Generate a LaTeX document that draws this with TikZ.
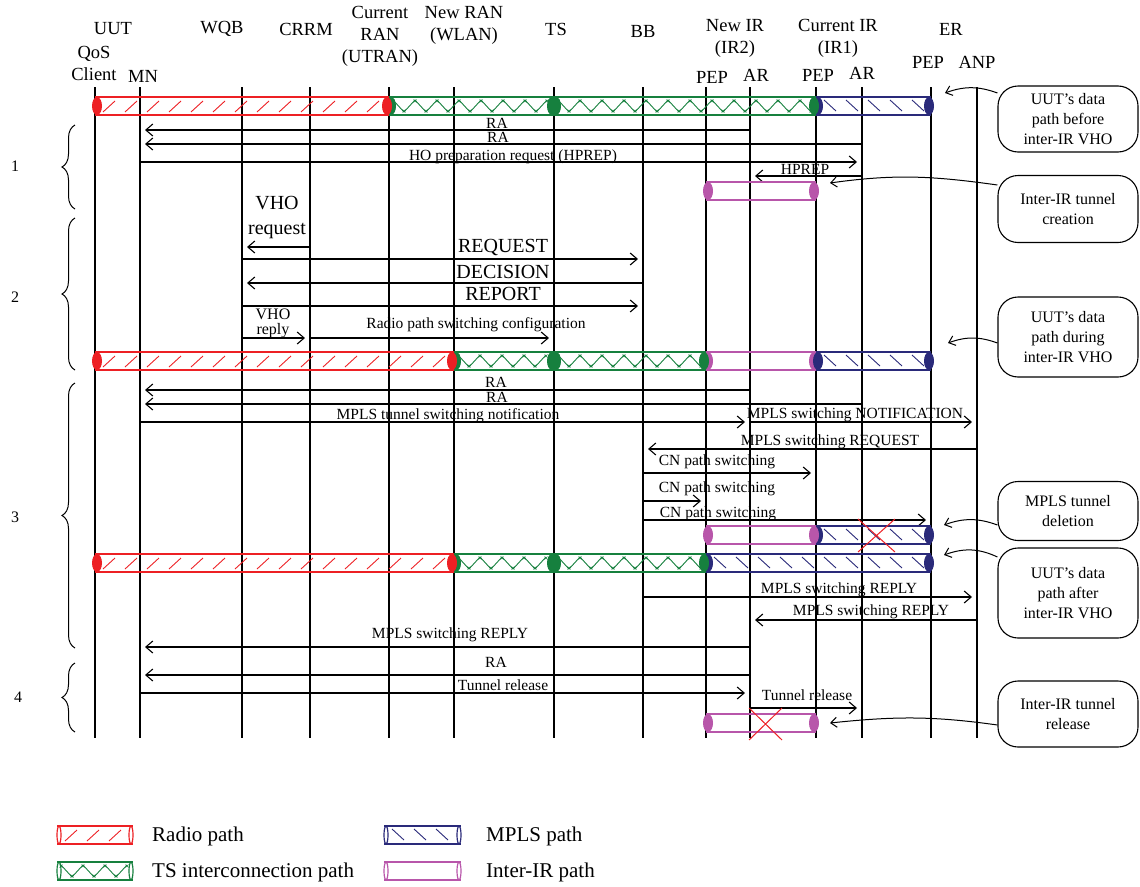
\documentclass[tikz,border=0pt]{standalone}
\usepackage{fontspec}
\setmainfont{Liberation Serif}
\usepackage{xcolor}
\usepackage{tikz}
\usetikzlibrary{arrows.meta,decorations.pathreplacing,positioning}

\definecolor{radioc}{RGB}{237,32,36}
\definecolor{tsc}{RGB}{22,128,62}
\definecolor{mplsc}{RGB}{42,42,122}
\definecolor{irc}{RGB}{184,86,170}

\newcommand\tubebody[4]{%
  \draw[#1, line width=1.3pt] (#2,#4-9) -- (#3,#4-9) (#2,#4+9) -- (#3,#4+9);}
\newcommand\tubecaps[4]{%
  \fill[#1] (#2+2,#4) ellipse[x radius=5pt, y radius=9pt]
            (#3-2,#4) ellipse[x radius=5pt, y radius=9pt];}
\newcommand\radiohatch[3]{%
  \pgfmathtruncatemacro\nh{(#2-#1-24)/22}%
  \foreach \k in {0,...,\nh}
    \draw[radioc, line width=0.9pt] (#1+8+22*\k,#3+6) -- (#1+20+22*\k,#3-5);}
\newcommand\mplshatch[3]{%
  \pgfmathtruncatemacro\nh{(#2-#1-24)/22}%
  \foreach \k in {0,...,\nh}
    \draw[mplsc, line width=0.9pt] (#1+8+22*\k,#3-6) -- (#1+20+22*\k,#3+5);}
\newcommand\tshatch[3]{%
  \pgfmathtruncatemacro\nz{(#2-#1-8)/11}%
  \draw[tsc, line width=0.9pt] (#1+4,#3-6)
    \foreach \k in {1,...,\nz} { -- (#1+4+11*\k,{#3-6+12*mod(\k,2)}) };
  \foreach \k in {0,...,\nz}
    \draw[tsc, line width=0.6pt] (#1+4+11*\k,{#3-5+10*mod(\k,2)})
      +(-1.5,-1.5) -- +(1.5,1.5) +(-1.5,1.5) -- +(1.5,-1.5);}
\newcommand\radioseg[3]{\tubebody{radioc}{#1}{#2}{#3}\radiohatch{#1}{#2}{#3}\tubecaps{radioc}{#1}{#2}{#3}}
\newcommand\tsseg[3]{\tubebody{tsc}{#1}{#2}{#3}\tshatch{#1}{#2}{#3}\tubecaps{tsc}{#1}{#2}{#3}}
\newcommand\mplsseg[3]{\tubebody{mplsc}{#1}{#2}{#3}\mplshatch{#1}{#2}{#3}\tubecaps{mplsc}{#1}{#2}{#3}}
\newcommand\irseg[3]{\tubebody{irc}{#1}{#2}{#3}\tubecaps{irc}{#1}{#2}{#3}}
\newcommand\legtube[4]{%
  \tubebody{#1}{#2}{#3}{#4}
  \draw[#1, line width=1.2pt] (#2+2,#4) ellipse[x radius=2pt, y radius=9pt]
                              (#3-2,#4) ellipse[x radius=2pt, y radius=9pt];}

\begin{document}
\begin{tikzpicture}[x=1pt, y=-1pt,
    life/.style={line width=1.1pt},
    msg/.style={-{Straight Barb[length=7pt,width=12pt]}, line width=1.1pt, shorten >=5pt},
    callarrow/.style={-{Straight Barb[length=6pt,width=10pt]}, line width=1pt},
    head/.style={font=\fontsize{18.5}{22}\selectfont, align=center, inner sep=0pt},
    lbl/.style={font=\fontsize{15.5}{16}\selectfont, anchor=base, inner sep=0pt},
    biglbl/.style={font=\fontsize{20}{25}\selectfont, anchor=base, inner sep=0pt},
    callout/.style={draw, line width=1.1pt, rounded corners=20pt, minimum width=140pt, align=center, font=\fontsize{16}{20}\selectfont},
    sectbrace/.style={decorate, decoration={brace, amplitude=13pt}, line width=1pt},
    num/.style={font=\fontsize{16}{18}\selectfont},
    leg/.style={font=\fontsize{21}{24}\selectfont, anchor=base west, inner sep=0pt},
    cutx/.style={radioc, line width=1pt}
]
    \useasboundingbox (0,0) rectangle (1140,886);

    \node[head] (uutlab) at (113,29) {UUT};
    \node[head] (qoslab) at (94,63) {QoS\\Client};
    \node[head] (mnlab) at (143,76) {MN};
    \node[head] (wqblab) at (222,29) {WQB};
    \node[head] (crrmlab) at (306,29) {CRRM};
    \node[head] (utranlab) at (380,36) {Current\\RAN\\(UTRAN)};
    \node[head] (wlanlab) at (464,25) {New RAN\\(WLAN)};
    \node[head] (tslab) at (556,29) {TS};
    \node[head] (bblab) at (643,31) {BB};
    \node[head] (ir2lab) at (735,38) {New IR\\(IR2)};
    \node[head] (pepNlab) at (712,77) {PEP};
    \node[head] (arNlab) at (756,75) {AR};
    \node[head] (ir1lab) at (838,38) {Current IR\\(IR1)};
    \node[head] (pepClab) at (818,75) {PEP};
    \node[head] (arClab) at (862,73) {AR};
    \node[head] (erlab) at (951,29) {ER};
    \node[head] (pepElab) at (928,62) {PEP};
    \node[head] (anplab) at (977,62) {ANP};

    \coordinate (qos) at (95,87);
    \coordinate (mn) at (140,87);
    \coordinate (wqb) at (242,87);
    \coordinate (crrm) at (310,87);
    \coordinate (utran) at (389,87);
    \coordinate (wlan) at (454,87);
    \coordinate (ts) at (554,87);
    \coordinate (bb) at (643,87);
    \coordinate (pepN) at (706,87);
    \coordinate (arN) at (750,87);
    \coordinate (pepC) at (816,87);
    \coordinate (arC) at (862,87);
    \coordinate (pepE) at (931,87);
    \coordinate (anp) at (977,87);
    \foreach \n in {qos,mn,wqb,crrm,utran,wlan,ts,bb,pepN,arN,pepC,arC,pepE,anp}
        \draw[life] (\n) -- (\n |- 0,738);

    % data path before the handover
    \mplsseg{816}{931}{106}
    \tsseg{554}{816}{106}
    \tsseg{389}{554}{106}
    \radioseg{95}{389}{106}

    % 1
    \draw[msg] (arN |- 0,130) -- (mn |- 0,130) node[lbl] at (497,128) {RA};
    \draw[msg] (arC |- 0,144) -- (mn |- 0,144) node[lbl] at (498,142) {RA};
    \draw[msg] (mn |- 0,162) -- (arC |- 0,162) node[lbl] at (513,160) {HO preparation request (HPREP)};
    \draw[msg] (arC |- 0,176) -- (arN |- 0,176) node[lbl] at (805,174) {HPREP};
    \irseg{706}{816}{191}

    % 2
    \draw[msg] (crrm |- 0,247) -- (wqb |- 0,247) node[font=\fontsize{20}{25}\selectfont, align=center, inner sep=0pt] at (277,218) {VHO\\request};
    \draw[msg] (wqb |- 0,259) -- (bb |- 0,259) node[biglbl] at (503,252) {REQUEST};
    \draw[msg] (bb |- 0,283) -- (wqb |- 0,283) node[biglbl] at (503,278) {DECISION};
    \draw[msg] (wqb |- 0,306) -- (bb |- 0,306) node[biglbl] at (503,300) {REPORT};
    \draw[msg] (wqb |- 0,338) -- (crrm |- 0,338) node[font=\fontsize{16}{15}\selectfont, align=center, inner sep=0pt] at (273,323) {VHO\\reply};
    \draw[msg] (crrm |- 0,338) -- (ts |- 0,338) node[lbl] at (476,328) {Radio path switching configuration};
    \irseg{706}{816}{361}
    \mplsseg{816}{931}{361}
    \tsseg{554}{706}{361}
    \tsseg{454}{554}{361}
    \radioseg{95}{454}{361}

    % 3
    \draw[msg] (arN |- 0,390) -- (mn |- 0,390) node[lbl] at (496,387) {RA};
    \draw[msg] (arC |- 0,404) -- (mn |- 0,404) node[lbl] at (497,402) {RA};
    \draw[msg] (mn |- 0,422) -- (arN |- 0,422) node[lbl] at (448,419) {MPLS tunnel switching notification};
    \draw[msg] (arN |- 0,422) -- (anp |- 0,422) node[lbl] at (855,418) {MPLS switching NOTIFICATION};
    \draw[msg] (anp |- 0,449) -- (bb |- 0,449) node[lbl] at (830,445) {MPLS switching REQUEST};
    \draw[msg] (bb |- 0,473) -- (pepC |- 0,473) node[lbl] at (717,465) {CN path switching};
    \draw[msg] (bb |- 0,501) -- (pepN |- 0,501) node[lbl] at (717,492) {CN path switching};
    \draw[msg] (bb |- 0,520) -- (pepE |- 0,520) node[lbl] at (718,517) {CN path switching};
    \mplsseg{816}{931}{535}
    \irseg{706}{816}{535}
    \draw[cutx] (858,519) -- (895,552) (858,552) -- (895,519);
    \mplsseg{706}{931}{563}
    \tsseg{554}{706}{563}
    \tsseg{454}{554}{563}
    \radioseg{95}{454}{563}
    \draw[msg] (bb |- 0,597) -- (anp |- 0,597) node[lbl] at (839,593) {MPLS switching REPLY};
    \draw[msg] (anp |- 0,620) -- (arN |- 0,620) node[lbl] at (871,615) {MPLS switching REPLY};
    \draw[msg] (arN |- 0,647) -- (mn |- 0,647) node[lbl] at (450,638) {MPLS switching REPLY};

    % 4
    \draw[msg] (arN |- 0,675) -- (mn |- 0,675) node[lbl] at (496,667) {RA};
    \draw[msg] (mn |- 0,693) -- (arN |- 0,693) node[lbl] at (503,690) {Tunnel release};
    \draw[msg] (arN |- 0,708) -- (arC |- 0,708) node[lbl] at (807,700) {Tunnel release};
    \irseg{706}{816}{723}
    \draw[cutx] (749,708) -- (782,740) (749,740) -- (782,708);

    \draw[sectbrace] (75,209) -- (75,125);
    \draw[sectbrace] (75,370) -- (75,218);
    \draw[sectbrace] (75,648) -- (75,383);
    \draw[sectbrace] (75,732) -- (75,663);
    \node[num] (sec1) at (15,166) {1};
    \node[num] (sec2) at (15,297) {2};
    \node[num] (sec3) at (15,517) {3};
    \node[num] (sec4) at (18,697) {4};

    \node[callout, minimum height=66pt] (before) at (1068,119) {UUT’s data\\path before\\inter-IR VHO};
    \node[callout, minimum height=67pt] (creation) at (1068,209) {Inter-IR tunnel\\creation};
    \node[callout, minimum height=80pt] (during) at (1068,337) {UUT’s data\\path during\\inter-IR VHO};
    \node[callout, minimum height=59pt] (deletion) at (1068,511) {MPLS tunnel\\deletion};
    \node[callout, minimum height=90pt] (after) at (1068,593) {UUT’s data\\path after\\inter-IR VHO};
    \node[callout, minimum height=66pt] (release) at (1068,714) {Inter-IR tunnel\\release};
    \coordinate (beforetip) at (945,93);
    \coordinate (creationtip) at (830,183);
    \coordinate (duringtip) at (948,343);
    \coordinate (deletiontip) at (944,525);
    \coordinate (aftertip) at (944,555);
    \coordinate (releasetip) at (830,723);
    \draw[callarrow] (before.west |- 0,93) to[out=160,in=20] (beforetip);
    \draw[callarrow] (creation.west |- 0,185) to[out=172,in=8] (creationtip);
    \draw[callarrow] (during.west |- 0,343) to[out=160,in=20] (duringtip);
    \draw[callarrow] (deletion.west |- 0,525) to[out=160,in=20] (deletiontip);
    \draw[callarrow] (after.west |- 0,557) to[out=155,in=20] (aftertip);
    \draw[callarrow] (release.west |- 0,725) to[out=172,in=6] (releasetip);

    \legtube{radioc}{57}{133}{835}
    \radiohatch{57}{133}{835}
    \node[leg] (radiolab) at (152,841) {Radio path};
    \legtube{tsc}{57}{133}{871}
    \tshatch{57}{133}{871}
    \node[leg] (tslegend) at (152,877) {TS interconnection path};
    \legtube{mplsc}{384}{461}{835}
    \mplshatch{384}{461}{835}
    \node[leg] (mplslab) at (486,841) {MPLS path};
    \legtube{irc}{384}{461}{871}
    \node[leg] (irlab) at (486,877) {Inter-IR path};
\end{tikzpicture}
\end{document}
